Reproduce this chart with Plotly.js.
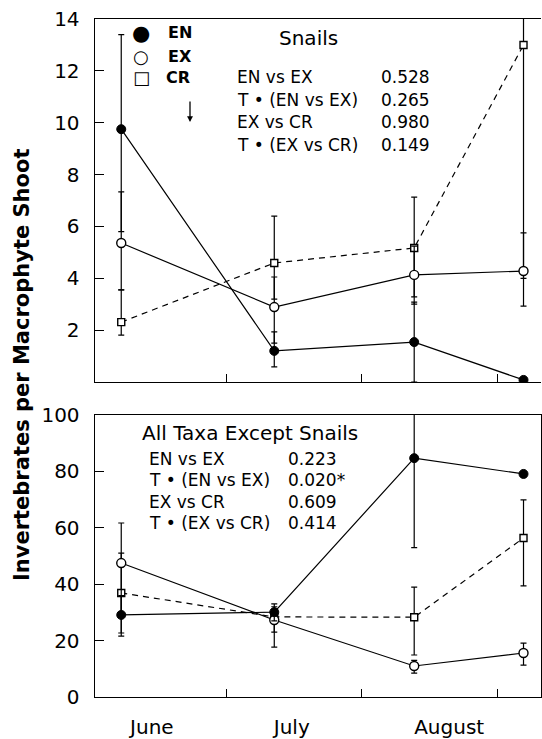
<!DOCTYPE html>
<html>
<head>
<meta charset="utf-8">
<script src="https://cdn.plot.ly/plotly-3.0.1.min.js"></script>
<style>html,body{margin:0;padding:0;background:#fff;}#chart{width:542px;height:739px;}</style>
</head>
<body>
<div id="chart"></div>
<script>
// Sampling days (days after 1 June)
const sampleDays = [6, 41, 73, 98];
const monthLabels = ['June', 'July', 'August'];
const monthLabelDays = [13, 45, 81];
const monthStartDays = [30, 61, 92];

// Snails panel (mean, upper limit, lower limit)
const snailEN = [9.75, 1.2, 1.54, 0.08];
const snailENhi = [13.4, 1.93, 3.08, 0.08];
const snailENlo = [5.8, 0.58, 0, 0.08];
const snailEX = [5.36, 2.89, 4.13, 4.28];
const snailEXhi = [7.33, 4.05, 5.24, 5.75];
const snailEXlo = [3.55, 1.5, 3.0, 2.93];
const snailCR = [2.31, 4.59, 5.17, 13.0];
const snailCRhi = [3.55, 6.4, 7.13, 14.5];
const snailCRlo = [1.81, 3.2, 3.28, 4.0];

// All taxa except snails panel
const taxaEN = [29.1, 30.1, 84.7, 79.1];
const taxaENhi = [36, 32, 102, 79.1];
const taxaENlo = [21.6, 27, 53, 79.1];
const taxaEX = [47.5, 27.3, 11.0, 15.6];
const taxaEXhi = [61.7, 31, 13, 19.1];
const taxaEXlo = [29.8, 17.7, 8.5, 11.3];
const taxaCR = [36.9, 28.4, 28.3, 56.4];
const taxaCRhi = [51, 33, 39, 69.9];
const taxaCRlo = [22.7, 23, 14.9, 39.4];

const snailTicks = [2, 4, 6, 8, 10, 12, 14];
const taxaTicks = [0, 20, 40, 60, 80, 100];

const snailStats = ['EN vs EX', 'T \u2022 (EN vs EX)', 'EX vs CR', 'T \u2022 (EX vs CR)'];
const snailP = ['0.528', '0.265', '0.980', '0.149'];
const taxaStats = ['EN vs EX', 'T \u2022 (EN vs EX)', 'EX vs CR', 'T \u2022 (EX vs CR)'];
const taxaP = ['0.223', '0.020*', '0.609', '0.414'];

const FONT = 'DejaVu Sans, Arial, sans-serif';
const W = 542, H = 739, ML = 95, MR = 1, MT = 19, MB = 42;
const PW = W - ML - MR, PH = H - MT - MB;
const px = x => (x - ML) / PW;
const py = y => (H - MB - y) / PH;

function errs(v, hi, lo) {
  return {
    type: 'data', symmetric: false,
    array: v.map((d, i) => hi[i] - d),
    arrayminus: v.map((d, i) => d - lo[i]),
    color: '#000', thickness: 1.2, width: 3
  };
}
function series(v, hi, lo, style, xa, ya) {
  const m = {
    EN: {symbol: 'circle', color: '#000', size: 9, line: {color: '#000', width: 1}},
    EX: {symbol: 'circle', color: '#fff', size: 9, line: {color: '#000', width: 1.4}},
    CR: {symbol: 'square', color: '#fff', size: 7, line: {color: '#000', width: 1.4}}
  }[style];
  return {
    x: sampleDays, y: v, xaxis: xa, yaxis: ya,
    type: 'scatter', mode: 'lines+markers',
    line: {color: '#000', width: 1.2, dash: style === 'CR' ? '6px,5px' : 'solid'},
    marker: m, error_y: errs(v, hi, lo), showlegend: false, hoverinfo: 'skip'
  };
}

const data = [
  series(snailCR, snailCRhi, snailCRlo, 'CR', 'x2', 'y2'),
  series(snailEX, snailEXhi, snailEXlo, 'EX', 'x2', 'y2'),
  series(snailEN, snailENhi, snailENlo, 'EN', 'x2', 'y2'),
  series(taxaCR, taxaCRhi, taxaCRlo, 'CR', 'x', 'y'),
  series(taxaEX, taxaEXhi, taxaEXlo, 'EX', 'x', 'y'),
  series(taxaEN, taxaENhi, taxaENlo, 'EN', 'x', 'y')
];

const xCommon = {
  range: [0, 102], showgrid: false, zeroline: false,
  showline: true, linecolor: '#000', linewidth: 1.4, mirror: true,
  tickmode: 'array', ticks: 'outside', ticklen: 0,
  minor: {tickmode: 'array', tickvals: monthStartDays, ticks: 'inside', ticklen: 8, tickwidth: 1.2, tickcolor: '#000', showgrid: false}
};
const yCommon = {
  showgrid: false, zeroline: false, showline: true, linecolor: '#000', linewidth: 1.4,
  ticks: 'inside', ticklen: 9, tickwidth: 1.2, tickcolor: '#000',
  tickfont: {family: FONT, size: 20, color: '#000'}, ticklabelstandoff: 10
};

const annotations = [];
function txt(x, y, text, size, opts) {
  annotations.push(Object.assign({
    xref: 'paper', yref: 'paper', x: px(x), y: py(y), text: text, showarrow: false,
    xanchor: 'left', yanchor: 'middle', font: {family: FONT, size: size, color: '#000'}
  }, opts || {}));
}
// Y axis title
txt(22, 365, '<b>Invertebrates per Macrophyte Shoot</b>', 21, {textangle: -90, xanchor: 'center'});
// Legend
txt(141, 33, '\u25CF', 21, {xanchor: 'center'});
txt(141, 56, '\u25CB', 18, {xanchor: 'center'});
txt(141, 78, '\u25A1', 18, {xanchor: 'center'});
txt(166, 33, '<b>EN</b>', 16);
txt(166, 56, '<b>EX</b>', 16);
txt(164, 78, '<b>CR</b>', 16);
annotations.push({
  xref: 'paper', yref: 'paper', x: px(190), y: py(122), ax: 0, ay: -22, text: '',
  showarrow: true, arrowhead: 2, arrowsize: 0.9, arrowwidth: 1.3, arrowcolor: '#000'
});
// Snails panel texts
txt(277, 38, 'Snails', 20);
snailStats.forEach((s, i) => { txt(235, 77 + i * 22.7, s, 17); txt(379, 77 + i * 22.7, snailP[i], 17); });
// All taxa panel texts
txt(140, 433, 'All Taxa Except Snails', 20);
taxaStats.forEach((s, i) => { txt(147, 459 + i * 21.4, s, 17); txt(286, 459 + i * 21.4, taxaP[i], 17); });

const layout = {
  width: W, height: H, margin: {l: ML, r: MR, t: MT, b: MB},
  paper_bgcolor: '#fff', plot_bgcolor: '#fff', showlegend: false,
  font: {family: FONT, color: '#000'},
  xaxis: Object.assign({}, xCommon, {
    domain: [0, 1], anchor: 'y',
    tickvals: monthLabelDays, ticktext: monthLabels,
    tickfont: {family: FONT, size: 20, color: '#000'}, ticklabelstandoff: 12
  }),
  yaxis: Object.assign({}, yCommon, {
    domain: [0, 0.4159], anchor: 'x', range: [0, 100], tickvals: taxaTicks, mirror: true
  }),
  xaxis2: Object.assign({}, xCommon, {
    domain: [0, 1], anchor: 'y2', tickvals: [], showticklabels: false
  }),
  yaxis2: Object.assign({}, yCommon, {
    domain: [0.4646, 1], anchor: 'x2', range: [0, 14], tickvals: snailTicks, mirror: false
  }),
  annotations: annotations
};

Plotly.newPlot('chart', data, layout, {displayModeBar: false, staticPlot: true});
</script>
</body>
</html>
